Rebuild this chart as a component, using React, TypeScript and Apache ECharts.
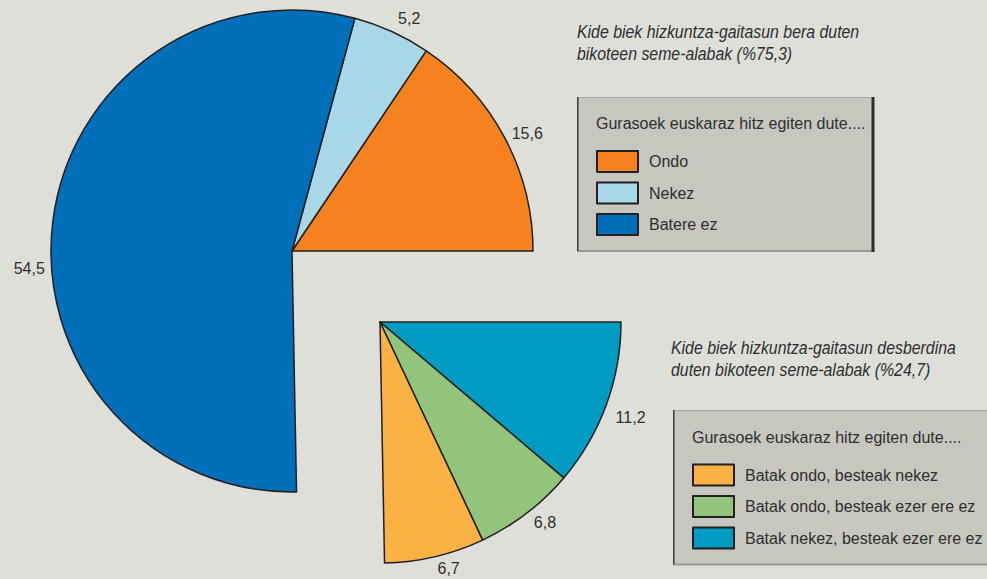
import React, { useEffect, useRef } from 'react';
import * as echarts from 'echarts';

// ---- data ----
const bigCategories = ['Ondo', 'Nekez', 'Batere ez'];
const bigValues = [15.6, 5.2, 54.5];
const smallCategories = [
  'Batak nekez, besteak ezer ere ez',
  'Batak ondo, besteak ezer ere ez',
  'Batak ondo, besteak nekez',
];
const smallValues = [11.2, 6.8, 6.7];
const bigTitleLines = ['Kide biek hizkuntza-gaitasun bera duten', 'bikoteen seme-alabak (%75,3)'];
const smallTitleLines = ['Kide biek hizkuntza-gaitasun desberdina', 'duten bikoteen seme-alabak (%24,7)'];
const legendTitle = 'Gurasoek euskaraz hitz egiten dute....';

// ---- styles ----
const bigColors = ['#f5821f', '#a8d8e8', '#006fba'];
const smallColors = ['#009bc3', '#92c47b', '#fbb245'];
const bigLabelLen = [8, 15, 8];
const smallLabelLen = [10, 12, 12];
const FONT = "'Liberation Sans', Arial, sans-serif";
const TEXT = '#2e2e2e';
const BG = '#dfdfda';
const BOX = '#c7c7c0';
const BORDER = '#231f20';

const fmt = (v: number) => v.toFixed(1).replace('.', ',');
const sum = (a: number[]) => Math.round(a.reduce((s, x) => s + x, 0) * 10) / 10;

function fillerItem(value: number) {
  return {
    value,
    name: '__rest',
    itemStyle: { color: 'rgba(0,0,0,0)', borderWidth: 0 },
    label: { show: false },
    labelLine: { show: false },
  };
}

function box(x: number, y: number, w: number, h: number) {
  return [
    { type: 'rect', shape: { x, y, width: w, height: h }, style: { fill: BOX } },
    { type: 'line', shape: { x1: x, y1: y + 0.5, x2: x + w, y2: y + 0.5 }, style: { stroke: '#a9a9a2', lineWidth: 1 } },
    { type: 'line', shape: { x1: x, y1: y + h, x2: x + w + 1.5, y2: y + h }, style: { stroke: '#9a9a94', lineWidth: 2 } },
    { type: 'line', shape: { x1: x + 0.75, y1: y, x2: x + 0.75, y2: y + h }, style: { stroke: '#3a3a3a', lineWidth: 1.5 } },
    { type: 'line', shape: { x1: x + w, y1: y, x2: x + w, y2: y + h + 1 }, style: { stroke: '#2d2d2d', lineWidth: 3 } },
  ];
}

export default function App() {
  const ref = useRef<HTMLDivElement>(null);
  useEffect(() => {
    if (!ref.current) return;
    const chart = echarts.init(ref.current, undefined, { renderer: 'svg' });

    const bigData: any[] = bigCategories.map((name, i) => ({
      name,
      value: bigValues[i],
      itemStyle: { color: bigColors[i] },
      labelLine: { length: bigLabelLen[i], length2: 0, show: false },
    }));
    bigData.push(fillerItem(sum(smallValues)));

    const smallData: any[] = smallCategories.map((name, i) => ({
      name,
      value: smallValues[i],
      itemStyle: { color: smallColors[i] },
      labelLine: { length: smallLabelLen[i], length2: 0, show: false },
    }));
    smallData.push(fillerItem(sum(bigValues)));

    const labelCommon = {
      show: true,
      position: 'outside',
      distanceToLabelLine: 0,
      fontFamily: FONT,
      fontSize: 16,
      color: TEXT,
      formatter: (p: any) => fmt(p.value),
    };

    const legendCommon = {
      orient: 'vertical',
      icon: 'rect',
      itemWidth: 41,
      itemHeight: 21,
      itemGap: 8.5,
      padding: 0,
      selectedMode: false,
      textStyle: { fontFamily: FONT, fontSize: 16, color: TEXT, padding: [0, 0, 0, 6] },
    };

    const titleText = (x: number, y: number, lines: string[]) => ({
      type: 'text',
      x,
      y,
      scaleX: 0.835,
      style: {
        text: lines.join('\n'),
        font: `italic 19px ${FONT}`,
        fill: TEXT,
        lineHeight: 22,
        textAlign: 'left',
        textVerticalAlign: 'top',
      },
    });

    const boxTitle = (x: number, y: number) => ({
      type: 'text',
      x,
      y,
      style: { text: legendTitle, font: `16px ${FONT}`, fill: TEXT, textVerticalAlign: 'middle' },
    });

    chart.setOption({
      animation: false,
      backgroundColor: BG,
      legend: [
        { ...legendCommon, left: 596, top: 150, data: bigCategories },
        { ...legendCommon, left: 692, top: 463.5, data: [...smallCategories].reverse() },
      ],
      graphic: [
        ...box(577, 97, 296, 154),
        ...box(673, 410, 330, 154.5),
        titleText(577, 20, bigTitleLines),
        titleText(671, 336, smallTitleLines),
        boxTitle(596, 123),
        boxTitle(692, 437),
      ],
      series: [
        {
          type: 'pie',
          center: [292, 251],
          radius: [0, 241],
          startAngle: 0,
          clockwise: false,
          avoidLabelOverlap: false,
          silent: true,
          emphasis: { disabled: true },
          itemStyle: { borderColor: BORDER, borderWidth: 1.5 },
          label: labelCommon,
          labelLayout: (p: any) => (p.dataIndex === 2 ? { dy: 48 } : {}),
          data: bigData,
        },
        {
          type: 'pie',
          center: [380, 322],
          radius: [0, 241],
          startAngle: 0,
          clockwise: true,
          avoidLabelOverlap: false,
          silent: true,
          emphasis: { disabled: true },
          itemStyle: { borderColor: BORDER, borderWidth: 1.5 },
          label: labelCommon,
          labelLayout: (p: any) => (p.dataIndex === 0 ? { dy: 9 } : {}),
          data: smallData,
        },
      ],
    });
    return () => chart.dispose();
  }, []);

  return (
    <div
      ref={ref}
      style={{ position: 'absolute', left: 0, top: 0, width: 987, height: 579, background: BG }}
    />
  );
}
